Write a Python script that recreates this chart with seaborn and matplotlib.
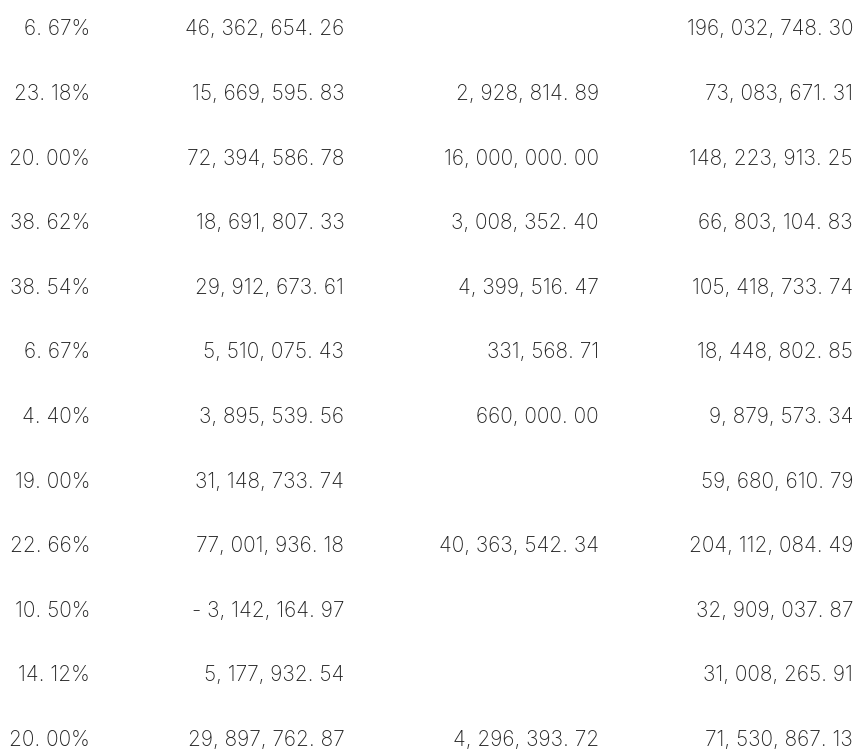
import numpy as np
import pandas as pd
import matplotlib.pyplot as plt
import seaborn as sns

# valores de la tabla (None = celda vacía)
ratios = [6.67, 23.18, 20.00, 38.62, 38.54, 6.67, 4.40, 19.00, 22.66, 10.50, 14.12, 20.00]
col_b = [46362654.26, 15669595.83, 72394586.78, 18691807.33, 29912673.61, 5510075.43,
         3895539.56, 31148733.74, 77001936.18, -3142164.97, 5177932.54, 29897762.87]
col_c = [None, 2928814.89, 16000000.00, 3008352.40, 4399516.47, 331568.71,
         660000.00, None, 40363542.34, None, None, 4296393.72]
col_d = [196032748.30, 73083671.31, 148223913.25, 66803104.83, 105418733.74, 18448802.85,
         9879573.34, 59680610.79, 204112084.49, 32909037.87, 31008265.91, 71530867.13]


def fmt_num(v):
    if v is None:
        return ""
    s = f"{v:,.2f}".replace(",", ", ").replace(".", ". ")
    return s.replace("-", "- ")


def fmt_pct(v):
    return f"{v:.2f}".replace(".", ". ") + "%"


df = pd.DataFrame({
    "a": [fmt_pct(v) for v in ratios],
    "b": [fmt_num(v) for v in col_b],
    "c": [fmt_num(v) for v in col_c],
    "d": [fmt_num(v) for v in col_d],
})

sns.set_theme(style="white")
plt.rcParams["font.family"] = ["Inter", "DejaVu Sans"]

fig = plt.figure(figsize=(8.65, 7.51), dpi=100)
ax = fig.add_axes([0, 0, 1, 1])

for j, col in enumerate(df.columns):
    for i, txt in enumerate(df[col]):
        if txt:
            # línea base un poco debajo del centro de la fila
            ax.text(j, i + 0.108, txt, ha="right", va="baseline", fontsize=15,
                    fontweight="light", color="#222222")

ax.set_xlim(-0.354, 3.047)
ax.set_ylim(11.184, -0.441)
ax.axis("off")

fig.savefig("out.png", dpi=100, facecolor="white")
